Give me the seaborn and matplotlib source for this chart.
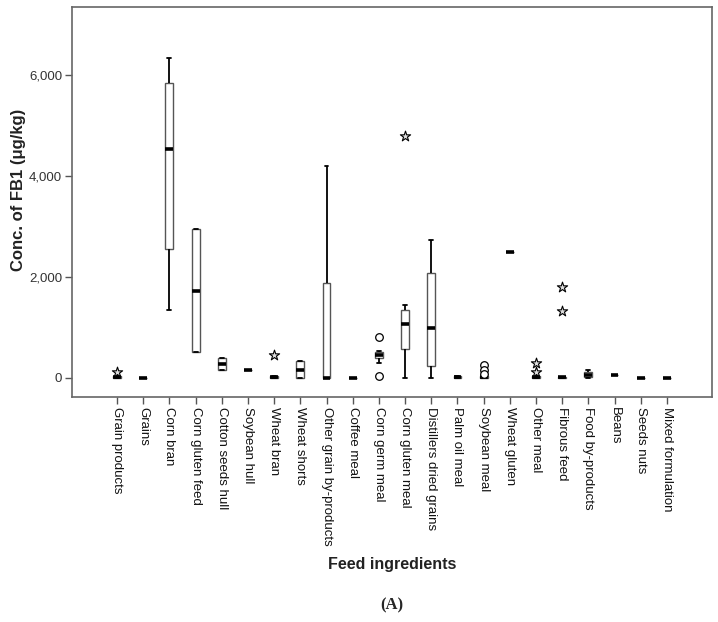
import numpy as np
import pandas as pd
import matplotlib
matplotlib.use("Agg")
import matplotlib.pyplot as plt
import matplotlib.ticker as mticker
import seaborn as sns

# ── Dados ──────────────────────────────────────────────────────────────────────
ingredientes = [
    "Grain products", "Grains", "Corn bran", "Corn gluten feed", "Cotton seeds hull",
    "Soybean hull", "Wheat bran", "Wheat shorts", "Other grain by-products",
    "Coffee meal", "Corn germ meal", "Corn gluten meal", "Distillers dried grains",
    "Palm oil meal", "Soybean meal", "Wheat gluten", "Other meal", "Fibrous feed",
    "Food by-products", "Beans", "Seeds nuts", "Mixed formulation",
]
# resumo de cinco números por ingrediente (µg/kg)
bigode_inf = [0, 0, 1344, 498, 155, 150, 0, 0, 0, 0, 280, 0, 0, 0, 0, 2480, 0, 0, 0, 45, 0, 0]
q1         = [0, 0, 2546, 498, 155, 150, 0, 0, 0, 0, 380, 565, 222, 0, 0, 2480, 0, 0, 10, 45, 0, 0]
mediana    = [15, 0, 4527, 1720, 267, 150, 15, 155, 0, 0, 450, 1060, 980, 15, 15, 2480, 10, 5, 60, 45, 0, 0]
q3         = [40, 0, 5834, 2942, 380, 150, 40, 320, 1866, 0, 510, 1337, 2070, 35, 35, 2480, 30, 20, 110, 45, 0, 0]
bigode_sup = [40, 0, 6330, 2942, 380, 150, 40, 320, 4196, 0, 530, 1442, 2724, 35, 35, 2480, 30, 20, 160, 45, 0, 0]

# outliers (círculos) e extremos (asteriscos)
out_cat = ["Corn germ meal", "Corn germ meal", "Soybean meal", "Soybean meal", "Soybean meal"]
out_val = [796, 36, 242, 155, 69]
ext_cat = ["Grain products", "Wheat bran", "Corn gluten meal", "Other meal", "Other meal",
           "Fibrous feed", "Fibrous feed"]
ext_val = [110, 450, 4790, 280, 115, 1800, 1310]

# ── Montando as tabelas ────────────────────────────────────────────────────────
linhas = []
for i, ing in enumerate(ingredientes):
    for v in (bigode_inf[i], q1[i], mediana[i], q3[i], bigode_sup[i]):
        linhas.append({"ingrediente": ing, "conc": v})
df = pd.DataFrame(linhas)

pos = {ing: i for i, ing in enumerate(ingredientes)}
df_out = pd.DataFrame({"x": [pos[c] for c in out_cat], "conc": out_val})
df_ext = pd.DataFrame({"x": [pos[c] for c in ext_cat], "conc": ext_val})

# ── Visual ─────────────────────────────────────────────────────────────────────
sns.set_style("ticks")
plt.rcParams["font.family"] = ["Liberation Sans", "DejaVu Sans"]

fig = plt.figure(figsize=(7.18, 6.22), dpi=100)
ax = fig.add_axes([0.1003, 0.362, 0.8913, 0.627])

sns.boxplot(data=df, x="ingrediente", y="conc", order=ingredientes, whis=np.inf,
            width=0.3, color="white", linecolor="#555555", linewidth=1.0,
            fliersize=0,
            medianprops=dict(color="black", linewidth=2.6),
            whiskerprops=dict(color="black", linewidth=1.3),
            capprops=dict(color="black", linewidth=1.3),
            ax=ax)

sns.scatterplot(data=df_out, x="x", y="conc", marker="o", s=30,
                facecolor="white", edgecolor="black", linewidth=0.9, ax=ax, zorder=5)
sns.scatterplot(data=df_ext, x="x", y="conc", marker="*", s=60,
                facecolor="#dddddd", edgecolor="black", linewidth=0.8, ax=ax, zorder=5)

ax.set_xlim(-1.72, len(ingredientes) - 1 + 1.72)
ax.set_ylim(-380, 7340)
ax.set_yticks([0, 2000, 4000, 6000])
ax.yaxis.set_major_formatter(mticker.FuncFormatter(lambda v, _: f"{v:,.0f}"))
ax.set_xticks(range(len(ingredientes)))
ax.set_xticklabels(ingredientes, rotation=-90, fontsize=9.5, color="#111111")
ax.tick_params(axis="y", labelsize=9.5, labelcolor="#333333", pad=2)
ax.tick_params(axis="x", pad=2)
ax.tick_params(axis="both", direction="out", length=5, width=1, color="#555555")

for lado in ax.spines.values():
    lado.set_visible(True)
    lado.set_color("#666666")
    lado.set_linewidth(1.2)

ax.set_xlabel("Feed ingredients", fontsize=11.5, fontweight="bold", color="#222222")
ax.set_ylabel("Conc. of FB1 (μg/kg)", fontsize=12, fontweight="bold", color="#222222")
ax.xaxis.set_label_coords(0.5, -0.41)
ax.yaxis.set_label_coords(-0.072, 0.53)

fig.text(0.546, 0.027, "(A)", ha="center", va="center", fontsize=12,
         fontweight="bold", family=["Liberation Serif", "DejaVu Serif"])

plt.savefig("out.png", dpi=100)
plt.close()
